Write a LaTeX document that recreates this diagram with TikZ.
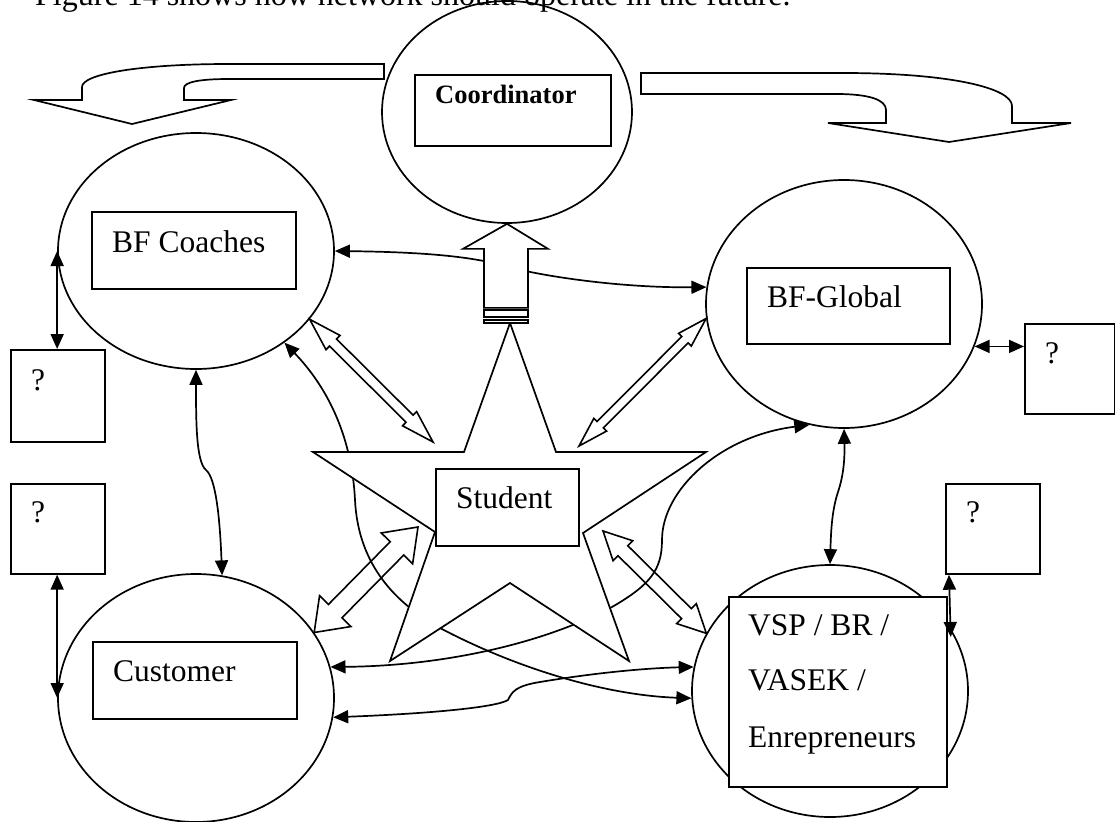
\documentclass[tikz,border=0pt]{standalone}
\usepackage{fontspec}
\setmainfont{Liberation Serif}
\usetikzlibrary{shapes.geometric,arrows.meta,calc}

% outlined double-headed block arrow between two points:
% #1,#2 ends, #3 half shaft width, #4 half head width, #5 head length
\newcommand\hollowarrow[5]{%
  \draw[hollow]
    (#1) -- ($(#1)!#5!(#2)!#4!90:(#2)$) -- ($(#1)!#5!(#2)!#3!90:(#2)$)
    -- ($(#2)!#5!(#1)!#3!-90:(#1)$) -- ($(#2)!#5!(#1)!#4!-90:(#1)$)
    -- (#2) -- ($(#2)!#5!(#1)!#4!90:(#1)$) -- ($(#2)!#5!(#1)!#3!90:(#1)$)
    -- ($(#1)!#5!(#2)!#3!-90:(#2)$) -- ($(#1)!#5!(#2)!#4!-90:(#2)$) -- cycle;}

\tikzset{
  circ/.style={ellipse, draw, fill=white, line width=1.7pt, inner sep=0pt},
  box/.style={rectangle, draw, fill=white, line width=1.7pt, inner sep=0pt, anchor=north west},
  txt/.style={anchor=base west, inner sep=0pt, font=\fontsize{31.5}{36}\selectfont},
  conn/.style={line width=1.7pt, <->, >={Triangle[length=15pt,width=13pt]}},
  hollow/.style={line width=1.6pt, line join=miter},
  blockarrow/.style={draw, fill=white, line width=1.7pt, line join=miter},
}

\begin{document}
\begin{tikzpicture}[x=1pt,y=-1pt]
\clip (0,0) rectangle (1115,821);

% curved block arrows leaving the coordinator
\draw[blockarrow] (384,64) -- (229,64) .. controls (140,64) and (82,74) .. (82,87)
  -- (82,100) -- (34,100) -- (132,124) -- (231,100) -- (184,100) -- (184,88)
  .. controls (184,82) and (200,79) .. (229,79) -- (384,79) -- cycle;
\draw[blockarrow] (641,73) -- (843,73) .. controls (950,73) and (1012,88) .. (1012,106)
  -- (1012,123) -- (1071,123) -- (949,142) -- (828,123) -- (886,123) -- (886,110)
  .. controls (886,100) and (870,94) .. (836,94) -- (641,94) -- cycle;

% actors
\node[circ, minimum width=250pt, minimum height=222pt] (coord) at (507,112) {};
\node[circ, minimum width=276pt, minimum height=236pt] (bfc) at (196,251) {};
\node[circ, minimum width=276pt, minimum height=248pt] (bfg) at (844,304) {};
\node[circ, minimum width=276pt, minimum height=248pt] (cus) at (196,698) {};
\node[circ, minimum width=276pt, minimum height=252pt] (vsp) at (830,691) {};

\node[box, minimum width=196pt, minimum height=71pt] (coordbox) at (414,74) {};
\node[txt, font=\bfseries\fontsize{26.5}{30}\selectfont] at ($(coordbox.north west)+(21,30)$) {Coordinator};

\node[box, minimum width=204pt, minimum height=77pt] (bfcbox) at (91,211) {};
\node[txt] at ($(bfcbox.north west)+(21,41)$) {BF Coaches};

\node[box, minimum width=203pt, minimum height=76pt] (bfgbox) at (746,267) {};
\node[txt] at ($(bfgbox.north west)+(21,40)$) {BF-Global};

\node[box, minimum width=204pt, minimum height=77pt] (cusbox) at (92,641) {};
\node[txt] at ($(cusbox.north west)+(21,40)$) {Customer};

\node[box, minimum width=218pt, minimum height=190pt] (vspbox) at (728,596) {};
\node[txt] at ($(vspbox.north west)+(20,39)$) {VSP / BR /};
\node[txt] at ($(vspbox.north west)+(20,94)$) {VASEK /};
\node[txt] at ($(vspbox.north west)+(20,151)$) {Enrepreneurs};

% open question boxes
\node[box, minimum width=94pt, minimum height=92pt] (ql1) at (10,349) {};
\node[txt] at ($(ql1.north west)+(21,41)$) {?};
\node[box, minimum width=94pt, minimum height=90pt] (ql2) at (10,483) {};
\node[txt] at ($(ql2.north west)+(21,39)$) {?};
\node[box, minimum width=90pt, minimum height=90pt] (qr1) at (1024,323) {};
\node[txt] at ($(qr1.north west)+(21,40)$) {?};
\node[box, minimum width=94pt, minimum height=90pt] (qr2) at (945,483) {};
\node[txt] at ($(qr2.north west)+(21,39)$) {?};

% curved links that pass behind the student star and the coordinator arrow
\draw[conn] (bfc.east) .. controls (420,252) and (470,256) .. (505,266)
  .. controls (540,276) and (620,288) .. (bfg.173);
\draw[conn] (bfc.-46) .. controls (330,390) and (352,440) .. (355,500)
  .. controls (358,560) and (390,600) .. (440,628)
  .. controls (510,665) and (600,695) .. (vsp.183);
\draw[conn] (cus.13) .. controls (440,666) and (540,645) .. (612,607)
  .. controls (650,585) and (662,570) .. (662,540)
  .. controls (662,490) and (720,436) .. (bfg.254);

% student star
\coordinate (stt) at (510,323);
\draw[blockarrow] (stt) -- (556,452) -- (706,452) -- (583,533) -- (629,661) -- (510,583)
  -- (390,661) -- (435,532) -- (313,452) -- (464,452) -- cycle;
\node[box, minimum width=143pt, minimum height=77pt] (stubox) at (435,468) {};
\node[txt] at ($(stubox.north west)+(21,40)$) {Student};

% striped arrow up to the coordinator
\draw[blockarrow] (coord.south) -- ++(41,25) -- ++(-20,0) -- ++(0,59) -- ++(-44,0)
  -- ++(0,-59) -- ++(-21,0) -- cycle;
\draw[blockarrow] (484,310) rectangle (528,317);
\draw[blockarrow] (484,320) rectangle (528,323);

% links between the student and the partners
\coordinate (ha1) at (433,442);
\coordinate (ha2) at (579,446);
\coordinate (ha3) at (418,527);
\coordinate (ha4) at (603,531);
\hollowarrow{bfc.-31}{ha1}{5pt}{10pt}{33pt}
\hollowarrow{bfg.186}{ha2}{4.5pt}{9pt}{30pt}
\hollowarrow{ha3}{cus.29}{9.5pt}{22pt}{30pt}
\hollowarrow{ha4}{vsp.155}{7pt}{14pt}{28pt}

% remaining two-way links
\draw[conn] (bfc.south) .. controls (196,420) and (196,462) .. (206,470)
  .. controls (216,478) and (220,520) .. (cus.78);
\draw[conn] (cus.-8) .. controls (420,714) and (495,708) .. (508,700)
  .. controls (512,692) and (515,686) .. (540,682)
  .. controls (600,672) and (650,668) .. (vsp.170);
\draw[conn] (bfg.south) .. controls (845,465) and (842,480) .. (838,492)
  .. controls (832,510) and (831,530) .. (vsp.north);
\draw[conn] (bfc.west) -- (bfc.west |- ql1.north);
\draw[conn] (cus.west |- ql2.south) -- (cus.west);
\draw[conn] (bfg.-18) -- (bfg.-18 -| qr1.west);
\coordinate (qa) at ($(qr2.south west)+(4,0)$);
\coordinate (qb) at ($(vspbox.north east)+(3,41)$);
\draw[conn] (qa) -- (qb);

% heading line of the page, running off the top edge
\node[txt, font=\fontsize{32}{36}\selectfont] (title) at (35,6)
  {Figure 14 shows how network should operate in the future.};
\end{tikzpicture}
\end{document}
